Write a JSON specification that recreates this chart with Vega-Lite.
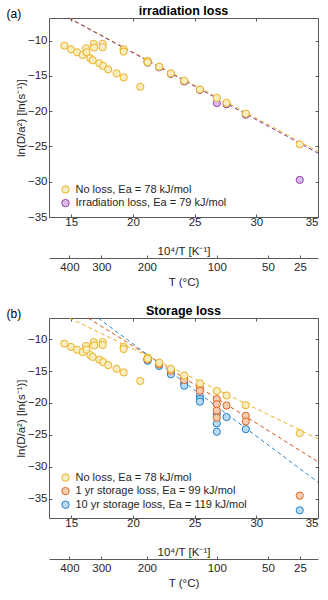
{
  "$schema": "https://vega.github.io/schema/vega-lite/v6.json",
  "padding": {"left": 5, "top": 4, "right": 5, "bottom": 5},
  "spacing": 15,
  "resolve": {
    "scale": {"color": "independent", "fill": "independent", "stroke": "independent", "x": "independent", "y": "independent"},
    "legend": {"color": "independent", "fill": "independent", "stroke": "independent"}
  },
  "config": {
    "font": "Liberation Sans",
    "view": {"stroke": "#5a5a5a", "strokeWidth": 1},
    "axis": {"labelFont": "Liberation Sans", "labelFontSize": 11.5, "labelColor": "#262626", "titleFont": "Liberation Sans", "titleFontSize": 11.5, "titleFontWeight": "normal", "titleColor": "#262626", "grid": false, "domainColor": "#5a5a5a", "tickColor": "#5a5a5a", "tickSize": -3},
    "title": {"font": "Liberation Sans", "fontSize": 12.5, "fontWeight": "bold", "color": "#000000"},
    "legend": {"labelFont": "Liberation Sans", "labelFontSize": 11, "labelColor": "#262626", "symbolType": "circle", "symbolSize": 55, "symbolStrokeWidth": 1, "rowPadding": 0.6, "labelOffset": 4.5, "padding": 0, "labelLimit": 250}
  },
  "vconcat": [
    {
      "width": 269, "height": 199,
      "title": {"text": "irradiation loss", "anchor": "middle", "offset": -10},
      "layer": [
        {
          "data": {"values": [
            {"series": "No loss, Ea = 78 kJ/mol", "x": 14.85, "y": -6.8},
            {"series": "No loss, Ea = 78 kJ/mol", "x": 35, "y": -25.7},
            {"series": "Irradiation loss, Ea = 79 kJ/mol", "x": 14.8, "y": -6.8},
            {"series": "Irradiation loss, Ea = 79 kJ/mol", "x": 35, "y": -25.95}
          ]},
          "mark": {"type": "line", "strokeDash": [4, 3], "strokeWidth": 1},
          "encoding": {
            "x": {"field": "x", "type": "quantitative", "scale": {"domain": [13.2, 35], "nice": false, "zero": false},
              "axis": {"orient": "bottom", "offset": 41, "values": [14.8555, 17.4474, 21.1349, 26.7989, 30.9454, 33.5402], "labelExpr": "'' + round(10000/datum.value - 273.15)", "title": "T (°C)", "domain": true, "labelPadding": 6, "titlePadding": 4}},
            "y": {"field": "y", "type": "quantitative", "scale": {"domain": [-35, -6.8], "nice": false, "zero": false},
              "axis": {"orient": "right", "values": [-35, -30, -25, -20, -15, -10], "labels": false, "title": null, "domain": false}},
            "color": {"field": "series", "type": "nominal", "scale": {"domain": ["Irradiation loss, Ea = 79 kJ/mol", "No loss, Ea = 78 kJ/mol"], "range": ["#7E2F8E", "#EDB120"]}, "legend": null}
          }
        },
        {
          "data": {"values": [
            {"series": "Irradiation loss, Ea = 79 kJ/mol", "x": 21.19, "y": -12.95},
            {"series": "Irradiation loss, Ea = 79 kJ/mol", "x": 21.19, "y": -13.12},
            {"series": "Irradiation loss, Ea = 79 kJ/mol", "x": 22.13, "y": -13.78},
            {"series": "Irradiation loss, Ea = 79 kJ/mol", "x": 23.08, "y": -14.72},
            {"series": "Irradiation loss, Ea = 79 kJ/mol", "x": 24.16, "y": -15.8},
            {"series": "Irradiation loss, Ea = 79 kJ/mol", "x": 25.43, "y": -17.0},
            {"series": "Irradiation loss, Ea = 79 kJ/mol", "x": 26.8, "y": -18.85},
            {"series": "Irradiation loss, Ea = 79 kJ/mol", "x": 27.59, "y": -19.02},
            {"series": "Irradiation loss, Ea = 79 kJ/mol", "x": 29.15, "y": -20.5},
            {"series": "Irradiation loss, Ea = 79 kJ/mol", "x": 33.52, "y": -29.74},
            {"series": "No loss, Ea = 78 kJ/mol", "x": 14.44, "y": -10.71},
            {"series": "No loss, Ea = 78 kJ/mol", "x": 14.98, "y": -11.23},
            {"series": "No loss, Ea = 78 kJ/mol", "x": 15.47, "y": -11.66},
            {"series": "No loss, Ea = 78 kJ/mol", "x": 15.93, "y": -12.04},
            {"series": "No loss, Ea = 78 kJ/mol", "x": 16.2, "y": -11.09},
            {"series": "No loss, Ea = 78 kJ/mol", "x": 16.25, "y": -11.66},
            {"series": "No loss, Ea = 78 kJ/mol", "x": 16.55, "y": -12.51},
            {"series": "No loss, Ea = 78 kJ/mol", "x": 16.74, "y": -12.8},
            {"series": "No loss, Ea = 78 kJ/mol", "x": 16.82, "y": -10.47},
            {"series": "No loss, Ea = 78 kJ/mol", "x": 16.87, "y": -10.99},
            {"series": "No loss, Ea = 78 kJ/mol", "x": 17.55, "y": -10.47},
            {"series": "No loss, Ea = 78 kJ/mol", "x": 17.55, "y": -10.94},
            {"series": "No loss, Ea = 78 kJ/mol", "x": 17.28, "y": -13.22},
            {"series": "No loss, Ea = 78 kJ/mol", "x": 17.6, "y": -13.6},
            {"series": "No loss, Ea = 78 kJ/mol", "x": 18.0, "y": -14.08},
            {"series": "No loss, Ea = 78 kJ/mol", "x": 18.68, "y": -14.65},
            {"series": "No loss, Ea = 78 kJ/mol", "x": 19.25, "y": -15.22},
            {"series": "No loss, Ea = 78 kJ/mol", "x": 19.25, "y": -11.23},
            {"series": "No loss, Ea = 78 kJ/mol", "x": 19.25, "y": -11.56},
            {"series": "No loss, Ea = 78 kJ/mol", "x": 20.6, "y": -16.55},
            {"series": "No loss, Ea = 78 kJ/mol", "x": 21.19, "y": -12.89},
            {"series": "No loss, Ea = 78 kJ/mol", "x": 21.19, "y": -13.08},
            {"series": "No loss, Ea = 78 kJ/mol", "x": 22.13, "y": -13.7},
            {"series": "No loss, Ea = 78 kJ/mol", "x": 23.08, "y": -14.65},
            {"series": "No loss, Ea = 78 kJ/mol", "x": 24.16, "y": -15.69},
            {"series": "No loss, Ea = 78 kJ/mol", "x": 25.43, "y": -16.93},
            {"series": "No loss, Ea = 78 kJ/mol", "x": 26.8, "y": -18.12},
            {"series": "No loss, Ea = 78 kJ/mol", "x": 27.59, "y": -18.83},
            {"series": "No loss, Ea = 78 kJ/mol", "x": 29.15, "y": -20.35},
            {"series": "No loss, Ea = 78 kJ/mol", "x": 33.52, "y": -24.71}
          ]},
          "mark": {"type": "circle", "size": 52, "strokeWidth": 1, "opacity": 1},
          "encoding": {
            "x": {"field": "x", "type": "quantitative", "scale": {"domain": [13.2, 35], "nice": false, "zero": false},
              "axis": {"orient": "bottom", "values": [15, 20, 25, 30, 35], "title": "10⁴/T [K⁻¹]", "domain": false, "labelPadding": 2, "titlePadding": 18}},
            "y": {"field": "y", "type": "quantitative", "scale": {"domain": [-35, -6.8], "nice": false, "zero": false},
              "axis": {"orient": "left", "values": [-35, -30, -25, -20, -15, -10], "title": "ln(D/a²) [ln(s⁻¹)]", "domain": false, "labelPadding": 5, "titlePadding": 1}},
            "fill": {"field": "series", "type": "nominal", "scale": {"domain": ["No loss, Ea = 78 kJ/mol", "Irradiation loss, Ea = 79 kJ/mol"], "range": ["#F6EEC0", "#DDB9EC"]},
              "legend": {"title": null, "orient": "none", "legendX": 11, "legendY": 166}},
            "stroke": {"field": "series", "type": "nominal", "scale": {"domain": ["No loss, Ea = 78 kJ/mol", "Irradiation loss, Ea = 79 kJ/mol"], "range": ["#EDB120", "#8E44A8"]},
              "legend": {"title": null, "orient": "none", "legendX": 11, "legendY": 166}}
          }
        },
        {
          "data": {"values": [
            {"x": 14.85, "y": -6.8},
            {"x": 35, "y": -25.7}
          ]},
          "mark": {"type": "line", "opacity": 0},
          "encoding": {
            "x": {"field": "x", "type": "quantitative", "scale": {"domain": [13.2, 35], "nice": false, "zero": false},
              "axis": {"orient": "top", "values": [15, 20, 25, 30, 35], "labels": false, "domain": false, "title": "(a)", "titleX": -43, "titleY": -5, "titleAlign": "left", "titleBaseline": "middle", "titleFontSize": 12, "titleColor": "#000000"}},
            "y": {"field": "y", "type": "quantitative", "scale": {"domain": [-35, -6.8], "nice": false, "zero": false}, "axis": null}
          }
        }
      ],
      "resolve": {"axis": {"x": "independent", "y": "independent"}}
    },
    {
      "width": 269, "height": 200,
      "title": {"text": "Storage loss", "anchor": "middle", "offset": -10},
      "layer": [
        {
          "data": {"values": [
            {"series": "No loss, Ea = 78 kJ/mol", "x": 14.85, "y": -6.7},
            {"series": "No loss, Ea = 78 kJ/mol", "x": 35, "y": -25.6},
            {"series": "1 yr storage loss, Ea = 99 kJ/mol", "x": 16.38, "y": -6.7},
            {"series": "1 yr storage loss, Ea = 99 kJ/mol", "x": 35, "y": -29.2},
            {"series": "10 yr storage loss, Ea = 119 kJ/mol", "x": 17.19, "y": -6.7},
            {"series": "10 yr storage loss, Ea = 119 kJ/mol", "x": 35, "y": -32.4}
          ]},
          "mark": {"type": "line", "strokeDash": [4, 3], "strokeWidth": 1},
          "encoding": {
            "x": {"field": "x", "type": "quantitative", "scale": {"domain": [13.2, 35], "nice": false, "zero": false},
              "axis": {"orient": "bottom", "offset": 41, "values": [14.8555, 17.4474, 21.1349, 26.7989, 30.9454, 33.5402], "labelExpr": "'' + round(10000/datum.value - 273.15)", "title": "T (°C)", "domain": true, "labelPadding": 6, "titlePadding": 4}},
            "y": {"field": "y", "type": "quantitative", "scale": {"domain": [-38, -6.7], "nice": false, "zero": false},
              "axis": {"orient": "right", "values": [-35, -30, -25, -20, -15, -10], "labels": false, "title": null, "domain": false}},
            "color": {"field": "series", "type": "nominal", "scale": {"domain": ["10 yr storage loss, Ea = 119 kJ/mol", "1 yr storage loss, Ea = 99 kJ/mol", "No loss, Ea = 78 kJ/mol"], "range": ["#2A87D0", "#D95319", "#EDB120"]}, "legend": null}
          }
        },
        {
          "data": {"values": [
            {"series": "10 yr storage loss, Ea = 119 kJ/mol", "x": 21.19, "y": -13.2},
            {"series": "10 yr storage loss, Ea = 119 kJ/mol", "x": 21.19, "y": -13.4},
            {"series": "10 yr storage loss, Ea = 119 kJ/mol", "x": 22.13, "y": -14.2},
            {"series": "10 yr storage loss, Ea = 119 kJ/mol", "x": 23.08, "y": -15.3},
            {"series": "10 yr storage loss, Ea = 119 kJ/mol", "x": 23.08, "y": -15.5},
            {"series": "10 yr storage loss, Ea = 119 kJ/mol", "x": 24.16, "y": -16.9},
            {"series": "10 yr storage loss, Ea = 119 kJ/mol", "x": 24.16, "y": -17.3},
            {"series": "10 yr storage loss, Ea = 119 kJ/mol", "x": 25.43, "y": -18.9},
            {"series": "10 yr storage loss, Ea = 119 kJ/mol", "x": 25.43, "y": -19.4},
            {"series": "10 yr storage loss, Ea = 119 kJ/mol", "x": 25.43, "y": -19.8},
            {"series": "10 yr storage loss, Ea = 119 kJ/mol", "x": 26.8, "y": -21.7},
            {"series": "10 yr storage loss, Ea = 119 kJ/mol", "x": 26.8, "y": -23.2},
            {"series": "10 yr storage loss, Ea = 119 kJ/mol", "x": 26.8, "y": -24.5},
            {"series": "10 yr storage loss, Ea = 119 kJ/mol", "x": 27.59, "y": -22.2},
            {"series": "10 yr storage loss, Ea = 119 kJ/mol", "x": 29.15, "y": -24.1},
            {"series": "10 yr storage loss, Ea = 119 kJ/mol", "x": 33.52, "y": -36.8},
            {"series": "1 yr storage loss, Ea = 99 kJ/mol", "x": 21.19, "y": -13.0},
            {"series": "1 yr storage loss, Ea = 99 kJ/mol", "x": 21.19, "y": -13.2},
            {"series": "1 yr storage loss, Ea = 99 kJ/mol", "x": 22.13, "y": -13.95},
            {"series": "1 yr storage loss, Ea = 99 kJ/mol", "x": 23.08, "y": -14.95},
            {"series": "1 yr storage loss, Ea = 99 kJ/mol", "x": 24.16, "y": -16.1},
            {"series": "1 yr storage loss, Ea = 99 kJ/mol", "x": 24.16, "y": -16.4},
            {"series": "1 yr storage loss, Ea = 99 kJ/mol", "x": 25.43, "y": -17.6},
            {"series": "1 yr storage loss, Ea = 99 kJ/mol", "x": 25.43, "y": -18.1},
            {"series": "1 yr storage loss, Ea = 99 kJ/mol", "x": 26.8, "y": -19.4},
            {"series": "1 yr storage loss, Ea = 99 kJ/mol", "x": 26.8, "y": -20.2},
            {"series": "1 yr storage loss, Ea = 99 kJ/mol", "x": 26.8, "y": -21.2},
            {"series": "1 yr storage loss, Ea = 99 kJ/mol", "x": 26.8, "y": -22.3},
            {"series": "1 yr storage loss, Ea = 99 kJ/mol", "x": 27.59, "y": -20.4},
            {"series": "1 yr storage loss, Ea = 99 kJ/mol", "x": 29.15, "y": -22.0},
            {"series": "1 yr storage loss, Ea = 99 kJ/mol", "x": 29.15, "y": -22.9},
            {"series": "1 yr storage loss, Ea = 99 kJ/mol", "x": 33.52, "y": -34.5},
            {"series": "No loss, Ea = 78 kJ/mol", "x": 14.44, "y": -10.71},
            {"series": "No loss, Ea = 78 kJ/mol", "x": 14.98, "y": -11.23},
            {"series": "No loss, Ea = 78 kJ/mol", "x": 15.47, "y": -11.66},
            {"series": "No loss, Ea = 78 kJ/mol", "x": 15.93, "y": -12.04},
            {"series": "No loss, Ea = 78 kJ/mol", "x": 16.2, "y": -11.09},
            {"series": "No loss, Ea = 78 kJ/mol", "x": 16.25, "y": -11.66},
            {"series": "No loss, Ea = 78 kJ/mol", "x": 16.55, "y": -12.51},
            {"series": "No loss, Ea = 78 kJ/mol", "x": 16.74, "y": -12.8},
            {"series": "No loss, Ea = 78 kJ/mol", "x": 16.82, "y": -10.47},
            {"series": "No loss, Ea = 78 kJ/mol", "x": 16.87, "y": -10.99},
            {"series": "No loss, Ea = 78 kJ/mol", "x": 17.55, "y": -10.47},
            {"series": "No loss, Ea = 78 kJ/mol", "x": 17.55, "y": -10.94},
            {"series": "No loss, Ea = 78 kJ/mol", "x": 17.28, "y": -13.22},
            {"series": "No loss, Ea = 78 kJ/mol", "x": 17.6, "y": -13.6},
            {"series": "No loss, Ea = 78 kJ/mol", "x": 18.0, "y": -14.08},
            {"series": "No loss, Ea = 78 kJ/mol", "x": 18.68, "y": -14.65},
            {"series": "No loss, Ea = 78 kJ/mol", "x": 19.25, "y": -15.22},
            {"series": "No loss, Ea = 78 kJ/mol", "x": 19.25, "y": -11.23},
            {"series": "No loss, Ea = 78 kJ/mol", "x": 19.25, "y": -11.56},
            {"series": "No loss, Ea = 78 kJ/mol", "x": 20.6, "y": -16.55},
            {"series": "No loss, Ea = 78 kJ/mol", "x": 21.19, "y": -12.89},
            {"series": "No loss, Ea = 78 kJ/mol", "x": 21.19, "y": -13.08},
            {"series": "No loss, Ea = 78 kJ/mol", "x": 22.13, "y": -13.7},
            {"series": "No loss, Ea = 78 kJ/mol", "x": 23.08, "y": -14.65},
            {"series": "No loss, Ea = 78 kJ/mol", "x": 24.16, "y": -15.69},
            {"series": "No loss, Ea = 78 kJ/mol", "x": 25.43, "y": -16.93},
            {"series": "No loss, Ea = 78 kJ/mol", "x": 26.8, "y": -18.12},
            {"series": "No loss, Ea = 78 kJ/mol", "x": 27.59, "y": -18.83},
            {"series": "No loss, Ea = 78 kJ/mol", "x": 29.15, "y": -20.35},
            {"series": "No loss, Ea = 78 kJ/mol", "x": 33.52, "y": -24.71}
          ]},
          "mark": {"type": "circle", "size": 52, "strokeWidth": 1, "opacity": 1},
          "encoding": {
            "x": {"field": "x", "type": "quantitative", "scale": {"domain": [13.2, 35], "nice": false, "zero": false},
              "axis": {"orient": "bottom", "values": [15, 20, 25, 30, 35], "title": "10⁴/T [K⁻¹]", "domain": false, "labelPadding": 2, "titlePadding": 18}},
            "y": {"field": "y", "type": "quantitative", "scale": {"domain": [-38, -6.7], "nice": false, "zero": false},
              "axis": {"orient": "left", "values": [-35, -30, -25, -20, -15, -10], "title": "ln(D/a²) [ln(s⁻¹)]", "domain": false, "labelPadding": 5, "titlePadding": 1}},
            "fill": {"field": "series", "type": "nominal", "scale": {"domain": ["No loss, Ea = 78 kJ/mol", "1 yr storage loss, Ea = 99 kJ/mol", "10 yr storage loss, Ea = 119 kJ/mol"], "range": ["#F6EEC0", "#F7CDB0", "#BADBF3"]},
              "legend": {"title": null, "orient": "none", "legendX": 11, "legendY": 154}},
            "stroke": {"field": "series", "type": "nominal", "scale": {"domain": ["No loss, Ea = 78 kJ/mol", "1 yr storage loss, Ea = 99 kJ/mol", "10 yr storage loss, Ea = 119 kJ/mol"], "range": ["#EDB120", "#DE6526", "#1F80CC"]},
              "legend": {"title": null, "orient": "none", "legendX": 11, "legendY": 154}}
          }
        },
        {
          "data": {"values": [
            {"x": 14.85, "y": -6.7},
            {"x": 35, "y": -25.6}
          ]},
          "mark": {"type": "line", "opacity": 0},
          "encoding": {
            "x": {"field": "x", "type": "quantitative", "scale": {"domain": [13.2, 35], "nice": false, "zero": false},
              "axis": {"orient": "top", "values": [15, 20, 25, 30, 35], "labels": false, "domain": false, "title": "(b)", "titleX": -43, "titleY": -5, "titleAlign": "left", "titleBaseline": "middle", "titleFontSize": 12, "titleColor": "#000000"}},
            "y": {"field": "y", "type": "quantitative", "scale": {"domain": [-38, -6.7], "nice": false, "zero": false}, "axis": null}
          }
        }
      ],
      "resolve": {"axis": {"x": "independent", "y": "independent"}}
    }
  ]
}
